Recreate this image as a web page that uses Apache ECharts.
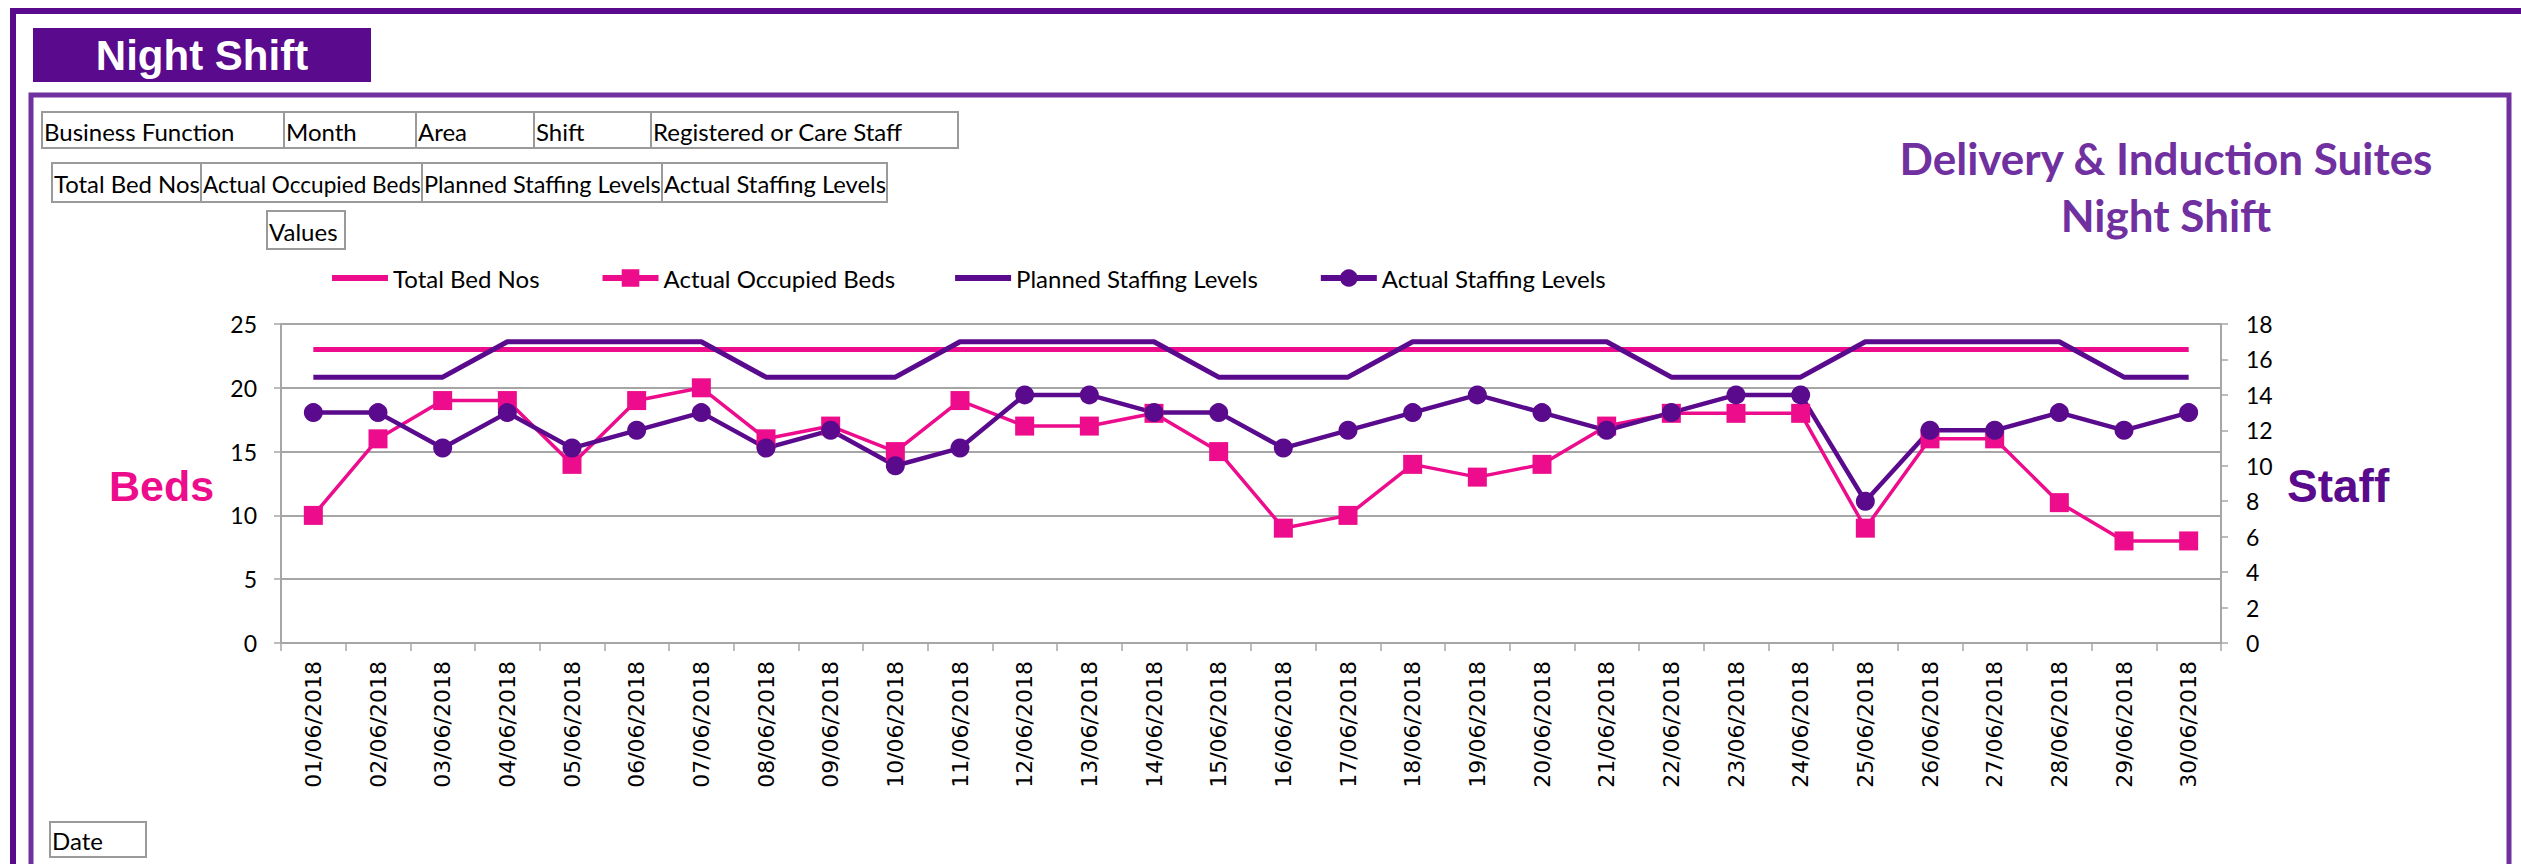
<!DOCTYPE html>
<html>
<head>
<meta charset="utf-8">
<script src="https://cdn.jsdelivr.net/npm/echarts@6/dist/echarts.min.js"></script>
<style>
html,body{margin:0;padding:0;background:#fff;}
#chart{width:2521px;height:864px;}
</style>
</head>
<body>
<div id="chart"></div>
<script>
const categories = ['01/06/2018','02/06/2018','03/06/2018','04/06/2018','05/06/2018','06/06/2018','07/06/2018','08/06/2018','09/06/2018','10/06/2018','11/06/2018','12/06/2018','13/06/2018','14/06/2018','15/06/2018','16/06/2018','17/06/2018','18/06/2018','19/06/2018','20/06/2018','21/06/2018','22/06/2018','23/06/2018','24/06/2018','25/06/2018','26/06/2018','27/06/2018','28/06/2018','29/06/2018','30/06/2018'];
const totalBedNos = [23,23,23,23,23,23,23,23,23,23,23,23,23,23,23,23,23,23,23,23,23,23,23,23,23,23,23,23,23,23];
const actualOccupiedBeds = [10,16,19,19,14,19,20,16,17,15,19,17,17,18,15,9,10,14,13,14,17,18,18,18,9,16,16,11,8,8];
const plannedStaffingLevels = [15,15,15,17,17,17,17,15,15,15,17,17,17,17,15,15,15,17,17,17,17,15,15,15,17,17,17,17,15,15];
const actualStaffingLevels = [13,13,11,13,11,12,13,11,12,10,11,14,14,13,13,11,12,13,14,13,12,13,14,14,8,12,12,13,12,13];
const bedTicks = [0,5,10,15,20,25];
const staffTicks = [0,2,4,6,8,10,12,14,16,18];

const PINK = '#EC0C8C';
const PURPLE = '#5A0A8C';
const TITLE_PURPLE = '#7030A0';
const BTN_FONT = '24px Lato, "Open Sans", sans-serif';
const LINE_ICON = 'path://M0,0H56V6H0Z';

const measureCtx = document.createElement('canvas').getContext('2d');
measureCtx.font = BTN_FONT;

const btnRects = [];
const btnTexts = [];
function button(x1, x2, y1, y2, label) {
  btnRects.push({type:'rect', shape:{x:x1, y:y1, width:x2-x1, height:y2-y1}, style:{fill:'#fff', stroke:'#9a9a9a', lineWidth:2}});
  const w = measureCtx.measureText(label).width;
  const avail = x2 - x1 - 3;
  const sx = w > avail ? avail / w : 1;
  btnTexts.push({type:'text', x:x1+2, y:(y1+y2)/2+1, scaleX:sx, style:{text:label, fill:'#000', font:BTN_FONT, textVerticalAlign:'middle', textAlign:'left'}});
}
button(42,284,112,148,'Business Function');
button(284,416,112,148,'Month');
button(416,534,112,148,'Area');
button(534,651,112,148,'Shift');
button(651,958,112,148,'Registered or Care Staff');
button(52,201,163,202,'Total Bed Nos');
button(201,422,163,202,'Actual Occupied Beds');
button(422,662,163,202,'Planned Staffing Levels');
button(662,887,163,202,'Actual Staffing Levels');
button(267,345,211,249,'Values');
button(50,146,822,857,'Date');

const graphics = [].concat(
  [{type:'rect', shape:{x:13, y:11, width:2700, height:1000}, style:{fill:'none', stroke:PURPLE, lineWidth:6}},
   {type:'rect', shape:{x:31, y:95, width:2478, height:1000}, style:{fill:'none', stroke:TITLE_PURPLE, lineWidth:5}},
   {type:'rect', shape:{x:33, y:28, width:338, height:54}, style:{fill:PURPLE}},
   {type:'text', x:202, y:55, style:{text:'Night Shift', fill:'#fff', font:'bold 42px "Liberation Sans", Arial, sans-serif', textAlign:'center', textVerticalAlign:'middle'}}],
  btnRects,
  btnTexts,
  [{type:'text', x:2166, y:158, style:{text:'Delivery & Induction Suites', fill:TITLE_PURPLE, font:'bold 44px Lato, sans-serif', textAlign:'center', textVerticalAlign:'middle'}},
   {type:'text', x:2166, y:215, style:{text:'Night Shift', fill:TITLE_PURPLE, font:'bold 44px Lato, sans-serif', textAlign:'center', textVerticalAlign:'middle'}},
   {type:'text', x:109, y:486, style:{text:'Beds', fill:PINK, font:'bold 43px "Liberation Sans", Arial, sans-serif', textAlign:'left', textVerticalAlign:'middle'}},
   {type:'text', x:2287, y:486, style:{text:'Staff', fill:PURPLE, font:'bold 46px "Liberation Sans", Arial, sans-serif', textAlign:'left', textVerticalAlign:'middle'}}]
);

const chart = echarts.init(document.getElementById('chart'), null, {renderer:'svg', width:2521, height:864});
chart.setOption({
  animation:false,
  backgroundColor:'#fff',
  graphic: graphics,
  legend:{
    left:327, top:261, itemWidth:56, itemHeight:22, itemGap:60,
    lineStyle:{width:6},
    textStyle:{fontFamily:'Lato, sans-serif', fontSize:24, color:'#000'},
    data:[
      {name:'Total Bed Nos', icon:LINE_ICON},
      {name:'Actual Occupied Beds'},
      {name:'Planned Staffing Levels', icon:LINE_ICON},
      {name:'Actual Staffing Levels'}
    ]
  },
  grid:{left:281, right:300, top:324, bottom:221, containLabel:false},
  xAxis:{
    type:'category', data:categories, boundaryGap:true,
    axisLine:{show:true, lineStyle:{color:'#a6a6a6', width:2}},
    axisTick:{show:true, interval:0, length:8, lineStyle:{color:'#a6a6a6', width:1.5}},
    axisLabel:{interval:0, rotate:90, margin:18, fontFamily:'"DejaVu Sans", sans-serif', fontSize:22, color:'#000'}
  },
  yAxis:[
    {type:'value', min:bedTicks[0], max:bedTicks[bedTicks.length-1], interval:5, position:'left',
     axisLine:{show:true, lineStyle:{color:'#a6a6a6', width:2}},
     axisTick:{show:true, length:7, lineStyle:{color:'#a6a6a6', width:1.5}},
     axisLabel:{margin:24, fontFamily:'Lato, sans-serif', fontSize:23, color:'#000'},
     splitLine:{show:true, lineStyle:{color:'#a6a6a6', width:2}}},
    {type:'value', min:staffTicks[0], max:staffTicks[staffTicks.length-1], interval:2, position:'right',
     axisLine:{show:true, lineStyle:{color:'#a6a6a6', width:2}},
     axisTick:{show:true, length:7, lineStyle:{color:'#a6a6a6', width:1.5}},
     axisLabel:{margin:25, fontFamily:'Lato, sans-serif', fontSize:23, color:'#000'},
     splitLine:{show:false}}
  ],
  series:[
    {name:'Total Bed Nos', type:'line', yAxisIndex:0, data:totalBedNos, symbol:'none',
     lineStyle:{color:PINK, width:5}, itemStyle:{color:PINK}},
    {name:'Actual Occupied Beds', type:'line', yAxisIndex:0, data:actualOccupiedBeds, symbol:'rect', symbolSize:19,
     lineStyle:{color:PINK, width:3.5}, itemStyle:{color:PINK}},
    {name:'Planned Staffing Levels', type:'line', yAxisIndex:1, data:plannedStaffingLevels, symbol:'none',
     lineStyle:{color:PURPLE, width:5}, itemStyle:{color:PURPLE}},
    {name:'Actual Staffing Levels', type:'line', yAxisIndex:1, data:actualStaffingLevels, symbol:'circle', symbolSize:19,
     lineStyle:{color:PURPLE, width:4.5}, itemStyle:{color:PURPLE}}
  ]
});
</script>
</body>
</html>
